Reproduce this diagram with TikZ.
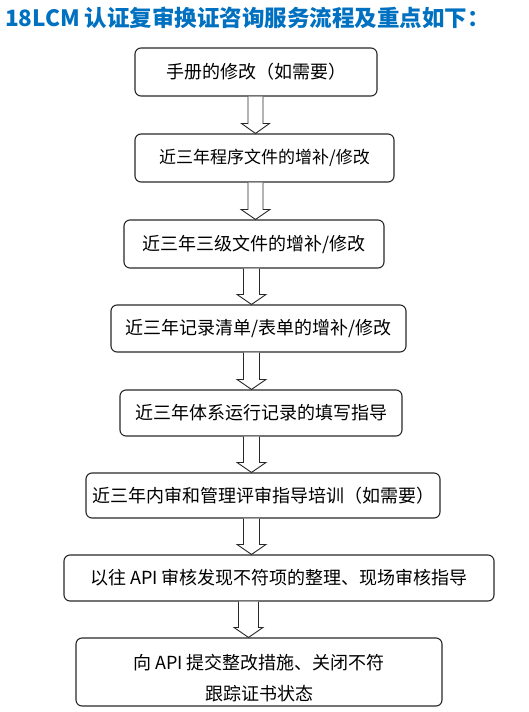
\documentclass[tikz,border=0pt]{standalone}
\usepackage{fontspec}
\setmainfont{Liberation Sans}
\newfontfamily\cjk{Noto Sans CJK SC}
\usetikzlibrary{calc}
\definecolor{titleblue}{RGB}{0,112,192}
\definecolor{linegray}{RGB}{40,40,40}
\newcommand\hollowarrow[5]{%
  \draw[harrow] let \p1=(#1.south), \p2=(#2.north) in
    ({(#3-#4)*1pt},\y1) -- ({(#3-#4)*1pt},{\y2+10pt}) -- ({(#3-#5)*1pt},{\y2+10pt})
    -- ({#3*1pt},\y2) -- ({(#3+#5)*1pt},{\y2+10pt}) -- ({(#3+#4)*1pt},{\y2+10pt})
    -- ({(#3+#4)*1pt},\y1);}
\begin{document}
\begin{tikzpicture}[x=1pt,y=-1pt,
  stepbox/.style={draw=linegray,line width=1.1pt,rounded corners=6pt,inner sep=0pt,
    font=\cjk\fontsize{18}{31}\selectfont,align=center,text=black},
  boxtext/.style={inner sep=0pt,font=\cjk\fontsize{18}{31}\selectfont,align=center,text=black},
  harrow/.style={draw=linegray,line width=0.9pt,fill=white,line join=miter}]
\useasboundingbox (0,0) rectangle (528,712);
\node[anchor=base west,font=\cjk\bfseries\fontsize{22.5}{24}\selectfont,text=titleblue,inner sep=0pt] (title) at (5,26) {18LCM 认证复审换证咨询服务流程及重点如下：};
\node[stepbox,minimum width=242pt,minimum height=48pt] (b1) at (256,72) {手册的修改（如需要）};
\node[stepbox,minimum width=259pt,minimum height=48pt,font=\cjk\fontsize{17}{31}\selectfont] (b2) at (264.5,158) {近三年程序文件的增补/修改};
\node[stepbox,minimum width=260pt,minimum height=48pt] (b3) at (254,244) {近三年三级文件的增补/修改};
\node[stepbox,minimum width=295pt,minimum height=47pt] (b4) at (258.5,328.5) {近三年记录清单/表单的增补/修改};
\node[stepbox,minimum width=282pt,minimum height=46pt] (b5) at (261,413) {近三年体系运行记录的填写指导};
\node[stepbox,minimum width=354pt,minimum height=45pt] (b6) at (263,495.5) {近三年内审和管理评审指导培训（如需要）};
\node[stepbox,minimum width=430pt,minimum height=46pt] (b7) at (279,578) {以往 API 审核发现不符项的整理、现场审核指导};
\node[stepbox,minimum width=366pt,minimum height=68pt] (b8) at (259,672) {};
\node[boxtext] (b8t) at ($(b8.center)+(0,6)$) {向 API 提交整改措施、关闭不符\\跟踪证书状态};
\hollowarrow{b1}{b2}{255.5}{7.5}{14}
\hollowarrow{b2}{b3}{255.5}{7.5}{14.5}
\hollowarrow{b3}{b4}{251.5}{8}{14.5}
\hollowarrow{b4}{b5}{251.5}{8}{14.5}
\hollowarrow{b5}{b6}{251.5}{8}{14.5}
\hollowarrow{b6}{b7}{251.5}{8}{14.5}
\hollowarrow{b7}{b8}{248.5}{10}{14.5}
\end{tikzpicture}
\end{document}
